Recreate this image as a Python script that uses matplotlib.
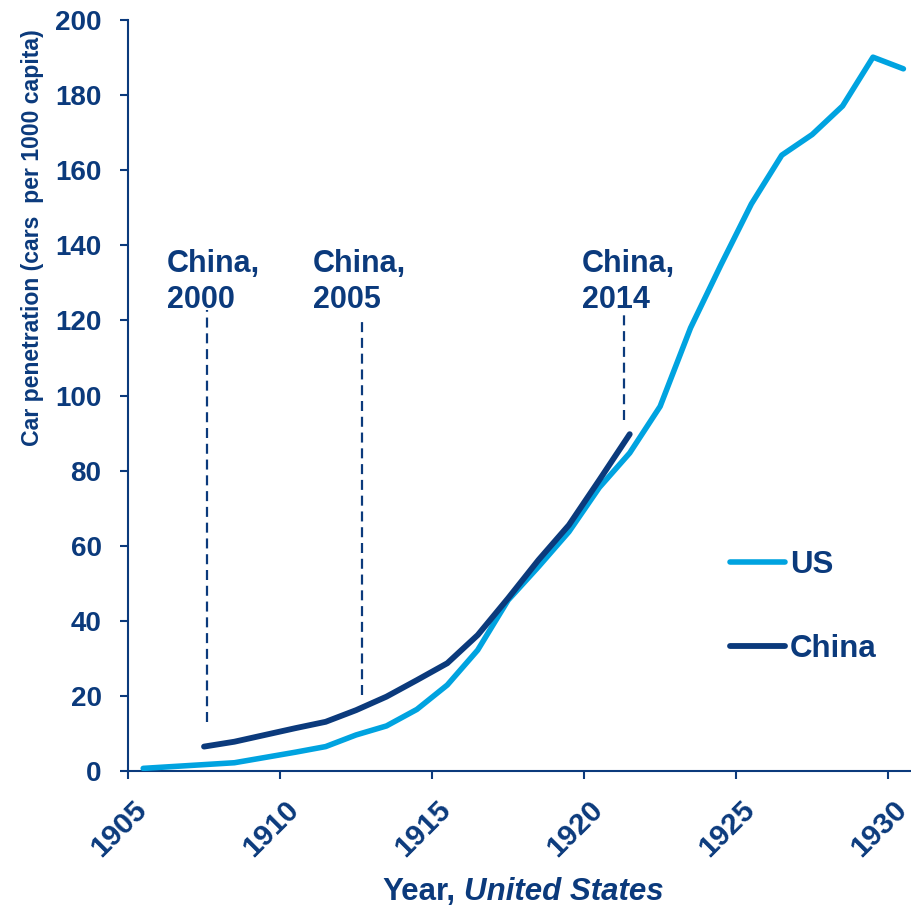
import matplotlib
matplotlib.use("Agg")
import matplotlib.pyplot as plt
import matplotlib.transforms as mtransforms
import numpy as np

# Car penetration, cars per 1000 inhabitants
us_years = list(range(1905, 1931))
us_values = [0.7, 1.2, 1.7, 2.2, 3.6, 5.0, 6.5, 9.6, 12.0, 16.4, 22.9, 32.2, 45.5,
             54.4, 63.7, 75.5, 84.7, 97.1, 118.0, 134.8, 151.0, 164.0, 169.5,
             177.1, 190.1, 187.0]

# China 2000-2014 lined up against the US year with the same penetration
china_years = list(range(1907, 1922))
china_values = [6.5, 7.8, 9.6, 11.4, 13.1, 16.2, 19.8, 24.2, 28.7, 36.2, 46.0,
                56.2, 65.5, 77.5, 89.7]

# Markers for selected China years: label, US-year position, dashed span
marker_labels = ["China,\n2000", "China,\n2005", "China,\n2014"]
marker_x = [1907.6, 1912.7, 1921.3]
marker_ymin = [13.0, 20.2, 93.5]
marker_ymax = [122.8, 120.0, 121.4]
label_x = [1906.27, 1911.09, 1919.92]

NAVY = "#0b3a7c"
LIGHT = "#00a3e0"

plt.rcParams["font.family"] = ["Liberation Sans", "DejaVu Sans"]
plt.rcParams["font.weight"] = "bold"

fig = plt.figure(figsize=(9.12, 9.10), dpi=100)
ax = fig.add_axes([128 / 912, 1 - 771 / 910, 783 / 912, 751 / 910])

x_us = np.array(us_years) + 0.5
x_cn = np.array(china_years) + 0.5
ax.plot(x_us, us_values, color=LIGHT, lw=4.0, solid_capstyle="round",
        solid_joinstyle="round", label="US", zorder=3)
ax.plot(x_cn, china_values, color=NAVY, lw=4.2, solid_capstyle="round",
        solid_joinstyle="round", label="China", zorder=4)

for lab, mx, y0, y1, lx in zip(marker_labels, marker_x, marker_ymin, marker_ymax, label_x):
    ax.vlines(mx, y0, y1, colors=NAVY, lw=1.6, linestyles=(0, (4.5, 2.6)))
    ax.text(lx, 139.0, lab, color=NAVY, fontsize=22, fontweight="bold",
            ha="left", va="top", linespacing=1.24)

ax.set_xlim(1905, 1930.75)
ax.set_ylim(0, 200)
ax.set_xticks(range(1905, 1931, 5))
ax.set_yticks(range(0, 201, 20))

for side in ("top", "right"):
    ax.spines[side].set_visible(False)
for side in ("left", "bottom"):
    ax.spines[side].set_color(NAVY)
    ax.spines[side].set_linewidth(1.5)

ax.tick_params(axis="both", colors=NAVY, width=1.5, length=6, direction="out")
ax.tick_params(axis="y", labelsize=20, pad=13)
ax.tick_params(axis="x", labelsize=21.5, pad=19)

offset = mtransforms.ScaledTranslation(14 / 100, 0, fig.dpi_scale_trans)
for lbl in ax.get_xticklabels():
    lbl.set_rotation(45)
    lbl.set_rotation_mode("anchor")
    lbl.set_ha("right")
    lbl.set_va("center")
    lbl.set_fontweight("bold")
    lbl.set_transform(lbl.get_transform() + offset)
for lbl in ax.get_yticklabels():
    lbl.set_fontweight("bold")

ax.set_ylabel("Car penetration (cars  per 1000 capita)", color=NAVY, fontsize=16.6,
              fontweight="bold", va="center")
ax.yaxis.set_label_coords((33 - 128) / 783, (771 - 238) / 751)

# x-axis title: plain "Year," followed by the italic country name
year_txt = fig.text(382 / 912, 1 - 900 / 910, "Year,", color=NAVY, fontsize=22.5,
                    fontweight="bold", ha="left", va="baseline")
ax.annotate("United States", xy=(1, 0), xycoords=year_txt, xytext=(6.25, 0),
            textcoords="offset points", color=NAVY, fontsize=22.5,
            fontweight="bold", fontstyle="italic", ha="left", va="bottom",
            annotation_clip=False)

leg = ax.legend(loc="upper left", bbox_to_anchor=(730 / 912, 1 - 550 / 910),
                bbox_transform=fig.transFigure, frameon=False, fontsize=22.5,
                handlelength=1.75, handletextpad=0.16, labelspacing=1.72,
                borderpad=0, borderaxespad=0)
for txt in leg.get_texts():
    txt.set_color(NAVY)
    txt.set_fontweight("bold")

fig.savefig("out.png", dpi=100)
